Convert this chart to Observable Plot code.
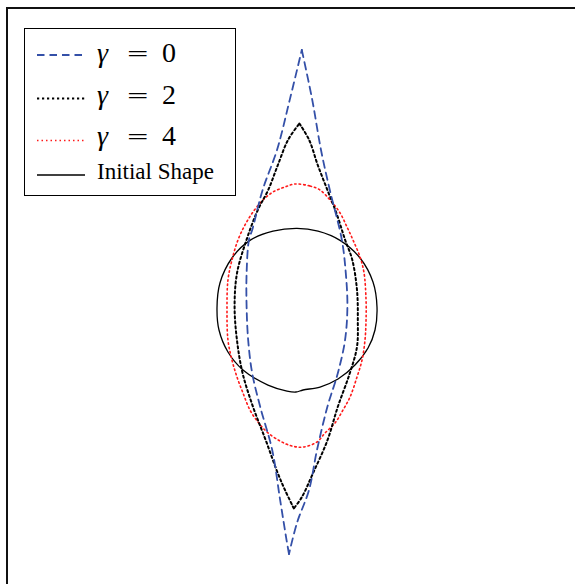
<!DOCTYPE html>
<html>
<head>
<meta charset="utf-8">
<script src="https://cdn.jsdelivr.net/npm/d3@7"></script>
<script src="https://cdn.jsdelivr.net/npm/@observablehq/plot@0.6"></script>
<style>
  html, body { margin: 0; padding: 0; background: #fff; overflow: hidden; }
  #chart { position: relative; width: 575px; height: 584px; overflow: hidden; }
  #chart svg { position: absolute; left: 0; top: 0; max-width: none !important; }
</style>
</head>
<body>
<div id="chart"></div>
<script>
// Droplet outlines (x, y in units of the initial radius), clockwise from the top
const gamma0 = [
  [0.06, 3.25], [0.19, 2.63], [0.30, 2.00], [0.41, 1.50], [0.56, 0.88], [0.61, 0.46],
  [0.63, 0.04], [0.60, -0.38], [0.51, -0.79], [0.38, -1.21], [0.25, -1.75], [0.15, -2.25],
  [0.00, -2.66], [-0.10, -3.05], [-0.13, -2.88], [-0.21, -2.38], [-0.31, -1.75],
  [-0.46, -1.21], [-0.56, -0.79], [-0.61, -0.38], [-0.63, 0.04], [-0.63, 0.46],
  [-0.60, 0.88], [-0.56, 1.00], [-0.43, 1.50], [-0.25, 2.00], [-0.09, 2.63]
];
const gamma2 = [
  [0.03, 2.33], [0.15, 2.13], [0.26, 1.81], [0.38, 1.50], [0.50, 1.19], [0.60, 0.88],
  [0.69, 0.63], [0.75, 0.25], [0.76, -0.13], [0.75, -0.46], [0.66, -0.79], [0.51, -1.21],
  [0.38, -1.63], [0.20, -2.04], [0.06, -2.34], [-0.04, -2.48], [-0.15, -2.25],
  [-0.24, -2.04], [-0.39, -1.63], [-0.55, -1.21], [-0.68, -0.79], [-0.75, -0.38],
  [-0.78, 0.04], [-0.75, 0.46], [-0.63, 0.88], [-0.49, 1.25], [-0.36, 1.50],
  [-0.24, 1.81], [-0.11, 2.13]
];
const gamma4 = [
  [-0.025, 1.575], [0.163, 1.55], [0.288, 1.50], [0.413, 1.375], [0.538, 1.213],
  [0.625, 1.038], [0.70, 0.875], [0.788, 0.663], [0.838, 0.463], [0.863, 0.125],
  [0.863, -0.125], [0.85, -0.375], [0.813, -0.625], [0.75, -0.838], [0.663, -1.088],
  [0.575, -1.25], [0.475, -1.413], [0.35, -1.538], [0.25, -1.65], [0.075, -1.713],
  [-0.063, -1.70], [-0.213, -1.638], [-0.375, -1.525], [-0.488, -1.40], [-0.588, -1.25],
  [-0.675, -1.038], [-0.75, -0.838], [-0.813, -0.625], [-0.863, -0.375], [-0.875, 0.0],
  [-0.863, 0.375], [-0.813, 0.625], [-0.738, 0.875], [-0.65, 1.063], [-0.55, 1.225],
  [-0.425, 1.375], [-0.30, 1.475], [-0.15, 1.538]
];
const initialShape = [
  [0.0, 1.02], [0.263, 0.985], [0.538, 0.87], [0.788, 0.65], [0.95, 0.35], [1.0, 0.038],
  [0.975, -0.25], [0.888, -0.475], [0.725, -0.688], [0.513, -0.863], [0.288, -0.963],
  [0.075, -1.0], [-0.013, -1.025], [-0.125, -1.013], [-0.363, -0.938], [-0.675, -0.75],
  [-0.863, -0.525], [-0.975, -0.25], [-1.0, 0.025], [-0.963, 0.338], [-0.813, 0.65],
  [-0.588, 0.87], [-0.30, 0.985]
];

// Index of the lower tip for the pointed outlines (the upper tip is index 0)
const gamma0Tip = 13;
const gamma2Tip = 15;

const gammaValues = [0, 2, 4];
const initialLabel = "Initial Shape";

const styles = [
  { stroke: "#3450a8", strokeWidth: 1.8, dash: "7.5,5" },
  { stroke: "#000000", strokeWidth: 2, dash: "2.2,2.8" },
  { stroke: "#ff1a1a", strokeWidth: 1.6, dash: "1.5,3" },
  { stroke: "#000000", strokeWidth: 1.3, dash: null }
];

// Smooth closed outline
const outline = (data, s) => Plot.line(data, {
  x: d => d[0], y: d => d[1],
  curve: "catmull-rom-closed",
  stroke: s.stroke, strokeWidth: s.strokeWidth,
  strokeDasharray: s.dash ?? undefined
});

// Pointed outline: two smooth flanks meeting at sharp tips
const pointed = (data, tip, s) => {
  const right = data.slice(0, tip + 1).map(p => ({ p, side: "right" }));
  const left = data.slice(tip).concat([data[0]]).map(p => ({ p, side: "left" }));
  return Plot.line(right.concat(left), {
    x: d => d.p[0], y: d => d.p[1], z: "side",
    curve: "catmull-rom",
    stroke: s.stroke, strokeWidth: s.strokeWidth,
    strokeDasharray: s.dash
  });
};

const chart = Plot.plot({
  width: 600,
  height: 610,
  marginLeft: 6.5,
  marginTop: 7.5,
  marginRight: 10.5,
  marginBottom: 10.5,
  style: { maxWidth: "none", height: "610px" },
  x: { domain: [-3.625, 3.6625], axis: null },
  y: { domain: [-3.625, 3.775], axis: null },
  marks: [
    Plot.frame({ stroke: "#111", strokeWidth: 2 }),
    outline(initialShape, styles[3]),
    outline(gamma4, styles[2]),
    pointed(gamma2, gamma2Tip, styles[1]),
    pointed(gamma0, gamma0Tip, styles[0])
  ]
});
document.getElementById("chart").appendChild(chart);

// Legend box in the upper-left corner of the axes
const legend = d3.select("#chart").append("svg")
  .attr("width", 575).attr("height", 584)
  .style("font-family", "'Liberation Serif', 'DejaVu Serif', serif");

legend.append("rect")
  .attr("x", 24.5).attr("y", 28.5).attr("width", 211).attr("height", 167)
  .attr("fill", "#fff").attr("stroke", "#000").attr("stroke-width", 1);

const rows = [
  { lineY: 55, baseY: 62 },
  { lineY: 98.5, baseY: 104 },
  { lineY: 140.5, baseY: 145 },
  { lineY: 175, baseY: 179 }
];

rows.forEach((r, i) => {
  const s = styles[i];
  legend.append("line")
    .attr("x1", 37).attr("x2", 85).attr("y1", r.lineY).attr("y2", r.lineY)
    .attr("stroke", s.stroke).attr("stroke-width", s.strokeWidth)
    .attr("stroke-dasharray", s.dash);
  if (i < gammaValues.length) {
    const t = legend.append("g").attr("font-size", 28).attr("fill", "#000");
    t.append("text").attr("x", 97).attr("y", r.baseY)
      .attr("font-style", "italic").text("γ");
    t.append("text").attr("x", 126).attr("y", r.baseY)
      .style("font-family", "'DejaVu Sans', sans-serif").attr("font-weight", 200).text("=");
    t.append("text").attr("x", 162).attr("y", r.baseY).text(String(gammaValues[i]));
  } else {
    legend.append("text").attr("x", 97).attr("y", r.baseY)
      .attr("font-size", 23).attr("fill", "#000").text(initialLabel);
  }
});
</script>
</body>
</html>
